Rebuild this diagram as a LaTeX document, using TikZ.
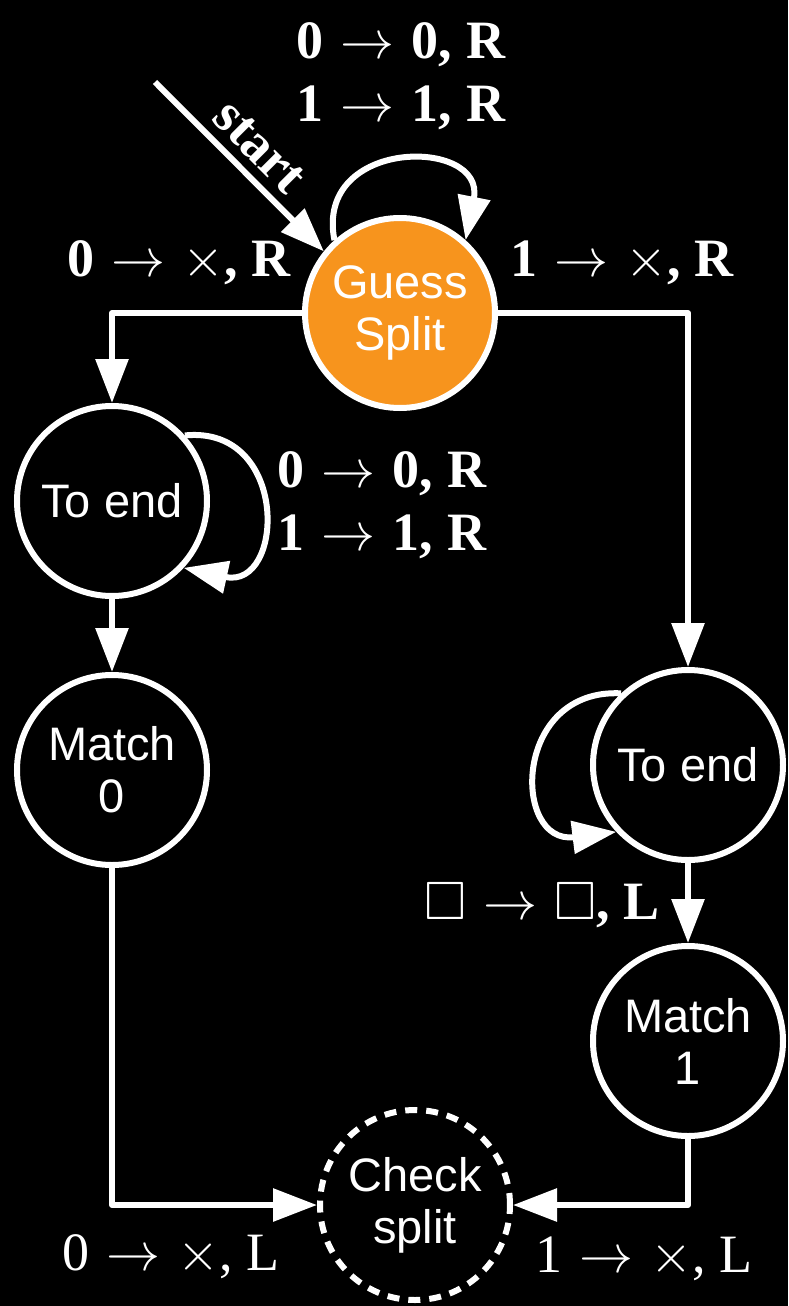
\documentclass[tikz,border=0pt]{standalone}
\usepackage{fix-cm}
\usepackage{amssymb}
\usepackage{fontspec}
\setmainfont{Liberation Serif}
\newfontfamily\statefont{Liberation Sans}
\usetikzlibrary{arrows.meta}
\definecolor{guessorange}{RGB}{247,148,29}
% one tape transition: read -> write, move
\newcommand\tgap{\hspace{17pt}}
\newcommand\tmove[3]{#1\tgap$\rightarrow$\tgap#2,\hspace{14pt}#3}
\begin{document}
\begin{tikzpicture}[x=1pt,y=-1pt,
  edge/.style={draw=white, line width=6pt, line join=round,
    -{Triangle[length=44pt,width=32pt]}},
  state/.style={circle, draw=white, line width=6pt, minimum size=190pt,
    inner sep=0pt, text=white, align=center,
    font=\statefont\fontsize{47}{52}\selectfont},
  tlab/.style={text=white, inner sep=0pt, align=center,
    font=\fontsize{54}{63}\selectfont\bfseries},
  tlabreg/.style={text=white, inner sep=0pt, align=center,
    font=\fontsize{54}{63}\selectfont},
]
% background
\fill[black] (0,0) rectangle (788,1306);

% states
\node[state, fill=guessorange] (gs) at (400,313) {Guess\\Split};
\node[state] (te1) at (112,501) {To end};
\node[state] (m0) at (112,770) {Match\\0};
\node[state] (te2) at (688,765) {To end};
\node[state] (m1) at (688,1041) {Match\\1};
\node[state, dash pattern=on 12pt off 9pt] (cs) at (415,1205) {Check\\split};

% start arrow
\coordinate (start) at (155,82);
\draw[edge] (start) -- node[pos=0.5, sloped, above=9pt, text=white, inner sep=0pt,
  font=\fontsize{54}{60}\selectfont\bfseries] (startlab) {start} (gs.141);

% self loops
\draw[edge] (gs.132) .. controls (314,137) and (486,137) .. (gs.48);
\draw[edge] (te1.42) .. controls (290,425) and (285,590) .. (te1.-43);
\draw[edge] (te2.133) .. controls (512,688) and (512,845) .. (te2.223);

% transitions
\draw[edge] (gs.west) -| (te1.north);
\draw[edge] (gs.east) -| (te2.north);
\draw[edge] (te1.south) -- (m0.north);
\draw[edge] (te2.south) -- (m1.north);
\draw[edge] (m0.south) |- (cs.west);
\draw[edge] (m1.south) |- (cs.east);

% transition labels
\node[tlab] (lgs) at (401,76) {\tmove{0}{0}{R}\\\tmove{1}{1}{R}};
\node[tlab] (lgl) at (179,263) {\tmove{0}{$\times$}{R}};
\node[tlab] (lgr) at (622,263) {\tmove{1}{$\times$}{R}};
\node[tlab] (lte1) at (382,505) {\tmove{0}{0}{R}\\\tmove{1}{1}{R}};
\node[tlab] (lte2) at (542,905) {\tmove{$\square$}{$\square$}{L}};
\node[tlabreg] (lm0) at (171,1257) {\tmove{0}{$\times$}{L}};
\node[tlabreg] (lm1) at (644,1259) {\tmove{1}{$\times$}{L}};
\end{tikzpicture}
\end{document}
